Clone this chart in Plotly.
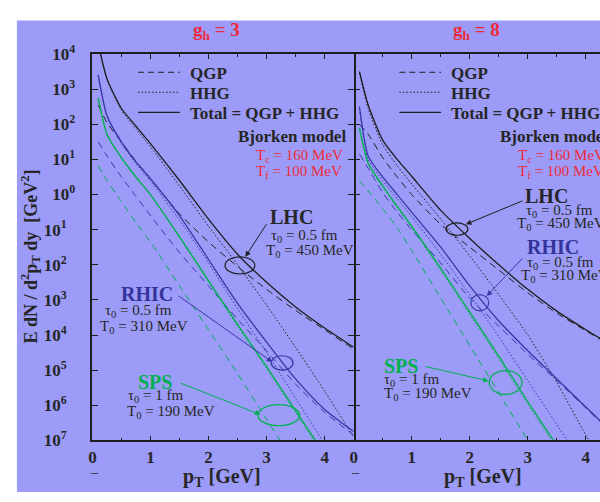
import plotly.graph_objects as go

# ---------------- data (log10 of E dN/d^2pT dy) ----------------
PT = [0.1, 0.25, 0.5, 0.75, 1.0, 1.5, 2.0, 2.5, 3.0, 3.5, 4.0, 4.5]

# g_h = 3
lhc3_qgp = [2.55, 2.05, 1.5, 0.95, 0.45, -0.55, -1.35, -2.05, -2.7, -3.3, -3.85, -4.4]
lhc3_hhg = [4.3, 3.28, 2.4, 1.88, 1.36, 0.25, -0.9, -2.0, -3.15, -4.35, -5.6, -6.9]
lhc3_tot = [4.3, 3.3, 2.45, 1.95, 1.45, 0.4, -0.7, -1.7, -2.5, -3.2, -3.8, -4.35]
rhic3_qgp = [1.5, 1.1, 0.5, -0.05, -0.6, -1.65, -2.6, -3.55, -4.45, -5.4, -6.2, -6.85]
rhic3_hhg = [3.38, 2.22, 1.45, 0.88, 0.38, -0.72, -1.95, -3.25, -4.5, -5.8, -7.1, -8.4]
rhic3_tot = [3.4, 2.25, 1.5, 0.93, 0.45, -0.6, -1.85, -3.1, -4.2, -5.25, -6.12, -6.75]
sps3_qgp = [0.82, 0.4, -0.2, -0.8, -1.35, -2.6, -3.85, -5.1, -6.4, -7.7, -9.0, -10.3]
sps3_hhg = [2.73, 1.7, 1.03, 0.48, -0.02, -1.23, -2.49, -3.75, -4.96, -6.22, -7.48, -8.7]
sps3_tot = [2.75, 1.72, 1.05, 0.5, 0.0, -1.2, -2.45, -3.7, -4.9, -6.15, -7.4, -8.6]

# g_h = 8
lhc8_qgp = [2.0, 1.72, 1.05, 0.5, 0.0, -0.85, -1.5, -2.15, -2.8, -3.38, -3.88, -4.37]
lhc8_hhg = [3.45, 2.45, 1.42, 0.82, 0.3, -0.7, -1.75, -2.85, -4.0, -5.35, -6.85, -8.2]
lhc8_tot = [3.5, 2.55, 1.55, 1.0, 0.52, -0.45, -1.25, -2.0, -2.7, -3.32, -3.85, -4.35]
rhic8_qgp = [1.15, 0.75, 0.05, -0.5, -1.0, -1.95, -2.95, -3.75, -4.55, -5.3, -6.08, -6.87]
rhic8_hhg = [2.45, 1.0, 0.4, -0.12, -0.62, -1.7, -2.85, -4.05, -5.3, -6.55, -7.8, -9.0]
rhic8_tot = [2.5, 1.1, 0.5, 0.0, -0.5, -1.5, -2.6, -3.6, -4.45, -5.25, -6.05, -6.85]
sps8_qgp = [0.4, 0.1, -0.4, -0.95, -1.6, -2.95, -4.3, -5.65, -7.0, -8.35, -9.7, -11.0]
sps8_hhg = [1.87, 0.86, 0.2, -0.38, -0.95, -2.16, -3.42, -4.68, -5.98, -7.24, -8.5, -9.8]
sps8_tot = [1.9, 0.9, 0.25, -0.33, -0.9, -2.1, -3.35, -4.6, -5.9, -7.15, -8.4, -9.7]

Y_EXP = list(range(-7, 5))
Y_TICKTEXT = [("10<sup>" + str(abs(e)) + "</sup>" + ("\u2002" if e < 0 else "")) for e in Y_EXP]

# ---------------- style ----------------
W, H = 600, 502
SERIF = "Liberation Serif, Times New Roman, serif"
LAV = "#9c9cf8"
BLACK = "#1e1e1e"
BLUE = "#3838a8"
BLUE_T = "#333399"
GREEN = "#00b050"
RED = "#ee2a3a"
TXT = "#262626"


def px(x):
    return x / W


def py(y):
    return 1 - y / H


fig = go.Figure()

panels = [
    ("x", "y", [(lhc3_qgp, lhc3_hhg, lhc3_tot, BLACK),
                (rhic3_qgp, rhic3_hhg, rhic3_tot, BLUE),
                (sps3_qgp, sps3_hhg, sps3_tot, GREEN)]),
    ("x2", "y2", [(lhc8_qgp, lhc8_hhg, lhc8_tot, BLACK),
                  (rhic8_qgp, rhic8_hhg, rhic8_tot, BLUE),
                  (sps8_qgp, sps8_hhg, sps8_tot, GREEN)]),
]
for xa, ya, systems in panels:
    for qgp, hhg, tot, col in systems:
        for vals, dash, w in ((qgp, "7px,5px", 1.0), (hhg, "1.5px,2px", 1.0), (tot, "solid", 1.3)):
            fig.add_trace(go.Scatter(
                x=PT, y=[10 ** v for v in vals], mode="lines",
                line=dict(color=col, width=w, dash=dash, shape="spline", smoothing=0.6),
                xaxis=xa, yaxis=ya, showlegend=False, hoverinfo="skip"))

# ---------------- axes ----------------
L0, L1 = 89, 352
R0 = 352
PPU = (L1 - L0) / 4.5
TOP, BOT = 44, 448

common_x = dict(showline=True, linecolor=BLACK, linewidth=1.5, mirror="ticks",
                ticks="inside", ticklen=5, tickwidth=1.2, tickcolor=BLACK,
                dtick=1, tick0=0, showgrid=False, zeroline=False,
                minor=dict(dtick=0.5, ticks="inside", ticklen=3, tickcolor=BLACK, tickwidth=1),
                tickfont=dict(family=SERIF, size=17, color=TXT, weight="bold"))
common_y = dict(type="log", range=[-7, 4],
                ticks="inside", ticklen=6, tickwidth=1.2, tickcolor=BLACK,
                tickvals=[10 ** e for e in Y_EXP], showgrid=False, zeroline=False,
                domain=[py(BOT), py(TOP)])

fig.update_layout(
    width=W, height=H,
    margin=dict(l=0, r=0, t=0, b=0, pad=0),
    paper_bgcolor="white", plot_bgcolor=LAV,
    xaxis=dict(common_x, domain=[px(L0), px(L1)], range=[0, 4.5], anchor="y"),
    yaxis=dict(common_y, anchor="x", mirror="ticks", ticktext=Y_TICKTEXT,
               showline=True, linecolor=BLACK, linewidth=1.5,
               ticklabelstandoff=12,
               tickfont=dict(family=SERIF, size=17, color=TXT, weight="bold")),
    xaxis2=dict(common_x, domain=[px(R0), 1.0], range=[0, (W - R0) / PPU], anchor="y2"),
    yaxis2=dict(common_y, anchor="x2", mirror=False, showline=False, showticklabels=False),
)

shapes = []
# lavender background
shapes.append(dict(type="rect", xref="paper", yref="paper", x0=px(13), x1=1, y0=0, y1=py(9),
                   fillcolor=LAV, line=dict(width=0), layer="below"))

annots = []


def text(x, y, t, size=15, color=TXT, bold=False, xanchor="left", yanchor="middle", angle=0):
    annots.append(dict(xref="paper", yref="paper", x=px(x), y=py(y), text=t, showarrow=False,
                       xanchor=xanchor, yanchor=yanchor, textangle=angle,
                       font=dict(family=SERIF, size=size, color=color,
                                 weight="bold" if bold else "normal")))


def arrow(hx, hy, tx, ty, color):
    annots.append(dict(xref="paper", yref="paper", x=px(hx), y=py(hy), ax=tx - hx, ay=ty - hy,
                       axref="pixel", ayref="pixel", text="", showarrow=True,
                       arrowhead=2, arrowsize=1.1, arrowwidth=1, arrowcolor=color))


def ellipse(cx, cy, w, h, color):
    shapes.append(dict(type="circle", xref="paper", yref="paper",
                       x0=px(cx - w / 2), x1=px(cx + w / 2), y0=py(cy + h / 2), y1=py(cy - h / 2),
                       line=dict(color=color, width=1.2)))


for off, g in ((0, "3"), (263, "8")):
    # title
    text(214 + off * 0.996, 20, "g<sub>h</sub> = " + g, size=19, color=RED, bold=True, xanchor="center")
    # legend
    for yy, dash, lab in ((63, "6px,4px", "QGP"), (84, "1.5px,2px", "HHG"), (105, "solid", "Total = QGP + HHG")):
        shapes.append(dict(type="line", xref="paper", yref="paper",
                           x0=px(135 + off), x1=px(177 + off), y0=py(yy), y1=py(yy),
                           line=dict(color=BLACK, width=1.1, dash=dash)))
        text(185 + off, yy + 1, lab, size=17, bold=True)
    text(234 + off, 130, "Bjorken model", size=17, bold=True)
    text(252 + off, 151, "T<sub>c</sub> = 160 MeV", size=15, color=RED)
    text(252 + off, 167, "T<sub>f</sub> = 100 MeV", size=15, color=RED)
    # x axis title
    text(219 + off, 487, "p<sub>T</sub> [GeV]", size=20, bold=True, xanchor="center")
    text(91 + off, 482, "\u2013", size=14, xanchor="center")

# Y axis title
text(27, 256, "E dN / d<sup>2</sup>p<sub>T</sub> dy  [GeV<sup>2</sup>]", size=18, bold=True,
     xanchor="center", angle=-90)

# left panel labels
text(289, 214, "LHC", size=20, bold=True, xanchor="center")
text(267, 234, "\u03c4<sub>0</sub> = 0.5 fm")
text(262, 250, "T<sub>0</sub> = 450 MeV")
text(144, 295, "RHIC", size=20, bold=True, color=BLUE_T, xanchor="center")
text(100, 313, "\u03c4<sub>0</sub> = 0.5 fm")
text(95, 329, "T<sub>0</sub> = 310 MeV")
text(152, 387, "SPS", size=20, bold=True, color=GREEN, xanchor="center")
text(123, 402, "\u03c4<sub>0</sub> = 1 fm")
text(122, 418, "T<sub>0</sub> = 190 MeV")
arrow(243, 256, 265, 222, BLACK)
arrow(270, 366, 175, 299, BLUE)
arrow(258, 421, 177, 389, GREEN)
ellipse(237.5, 265, 30, 18, BLACK)
ellipse(280, 367, 22, 15, BLUE)
ellipse(276.7, 421.7, 42, 22, GREEN)

# right panel labels
text(546, 192, "LHC", size=20, bold=True, xanchor="center")
text(523, 208, "\u03c4<sub>0</sub> = 0.5 fm")
text(514, 222, "T<sub>0</sub> = 450 MeV")
text(553, 246, "RHIC", size=20, bold=True, color=BLUE_T, xanchor="center")
text(524, 262, "\u03c4<sub>0</sub> = 0.5 fm")
text(518, 276, "T<sub>0</sub> = 310 MeV")
text(400, 370, "SPS", size=20, bold=True, color=GREEN, xanchor="center")
text(381, 385, "\u03c4<sub>0</sub> = 1 fm")
text(381, 400, "T<sub>0</sub> = 190 MeV")
arrow(465, 222, 523, 198, BLACK)
arrow(486, 297, 523, 258, BLUE)
arrow(488, 386, 423, 371, GREEN)
ellipse(456, 227, 22, 13, BLACK)
ellipse(479, 304, 18, 17, BLUE)
ellipse(505, 387.5, 33, 25, GREEN)

fig.update_layout(shapes=shapes, annotations=annots)
fig.write_html("out.html")
